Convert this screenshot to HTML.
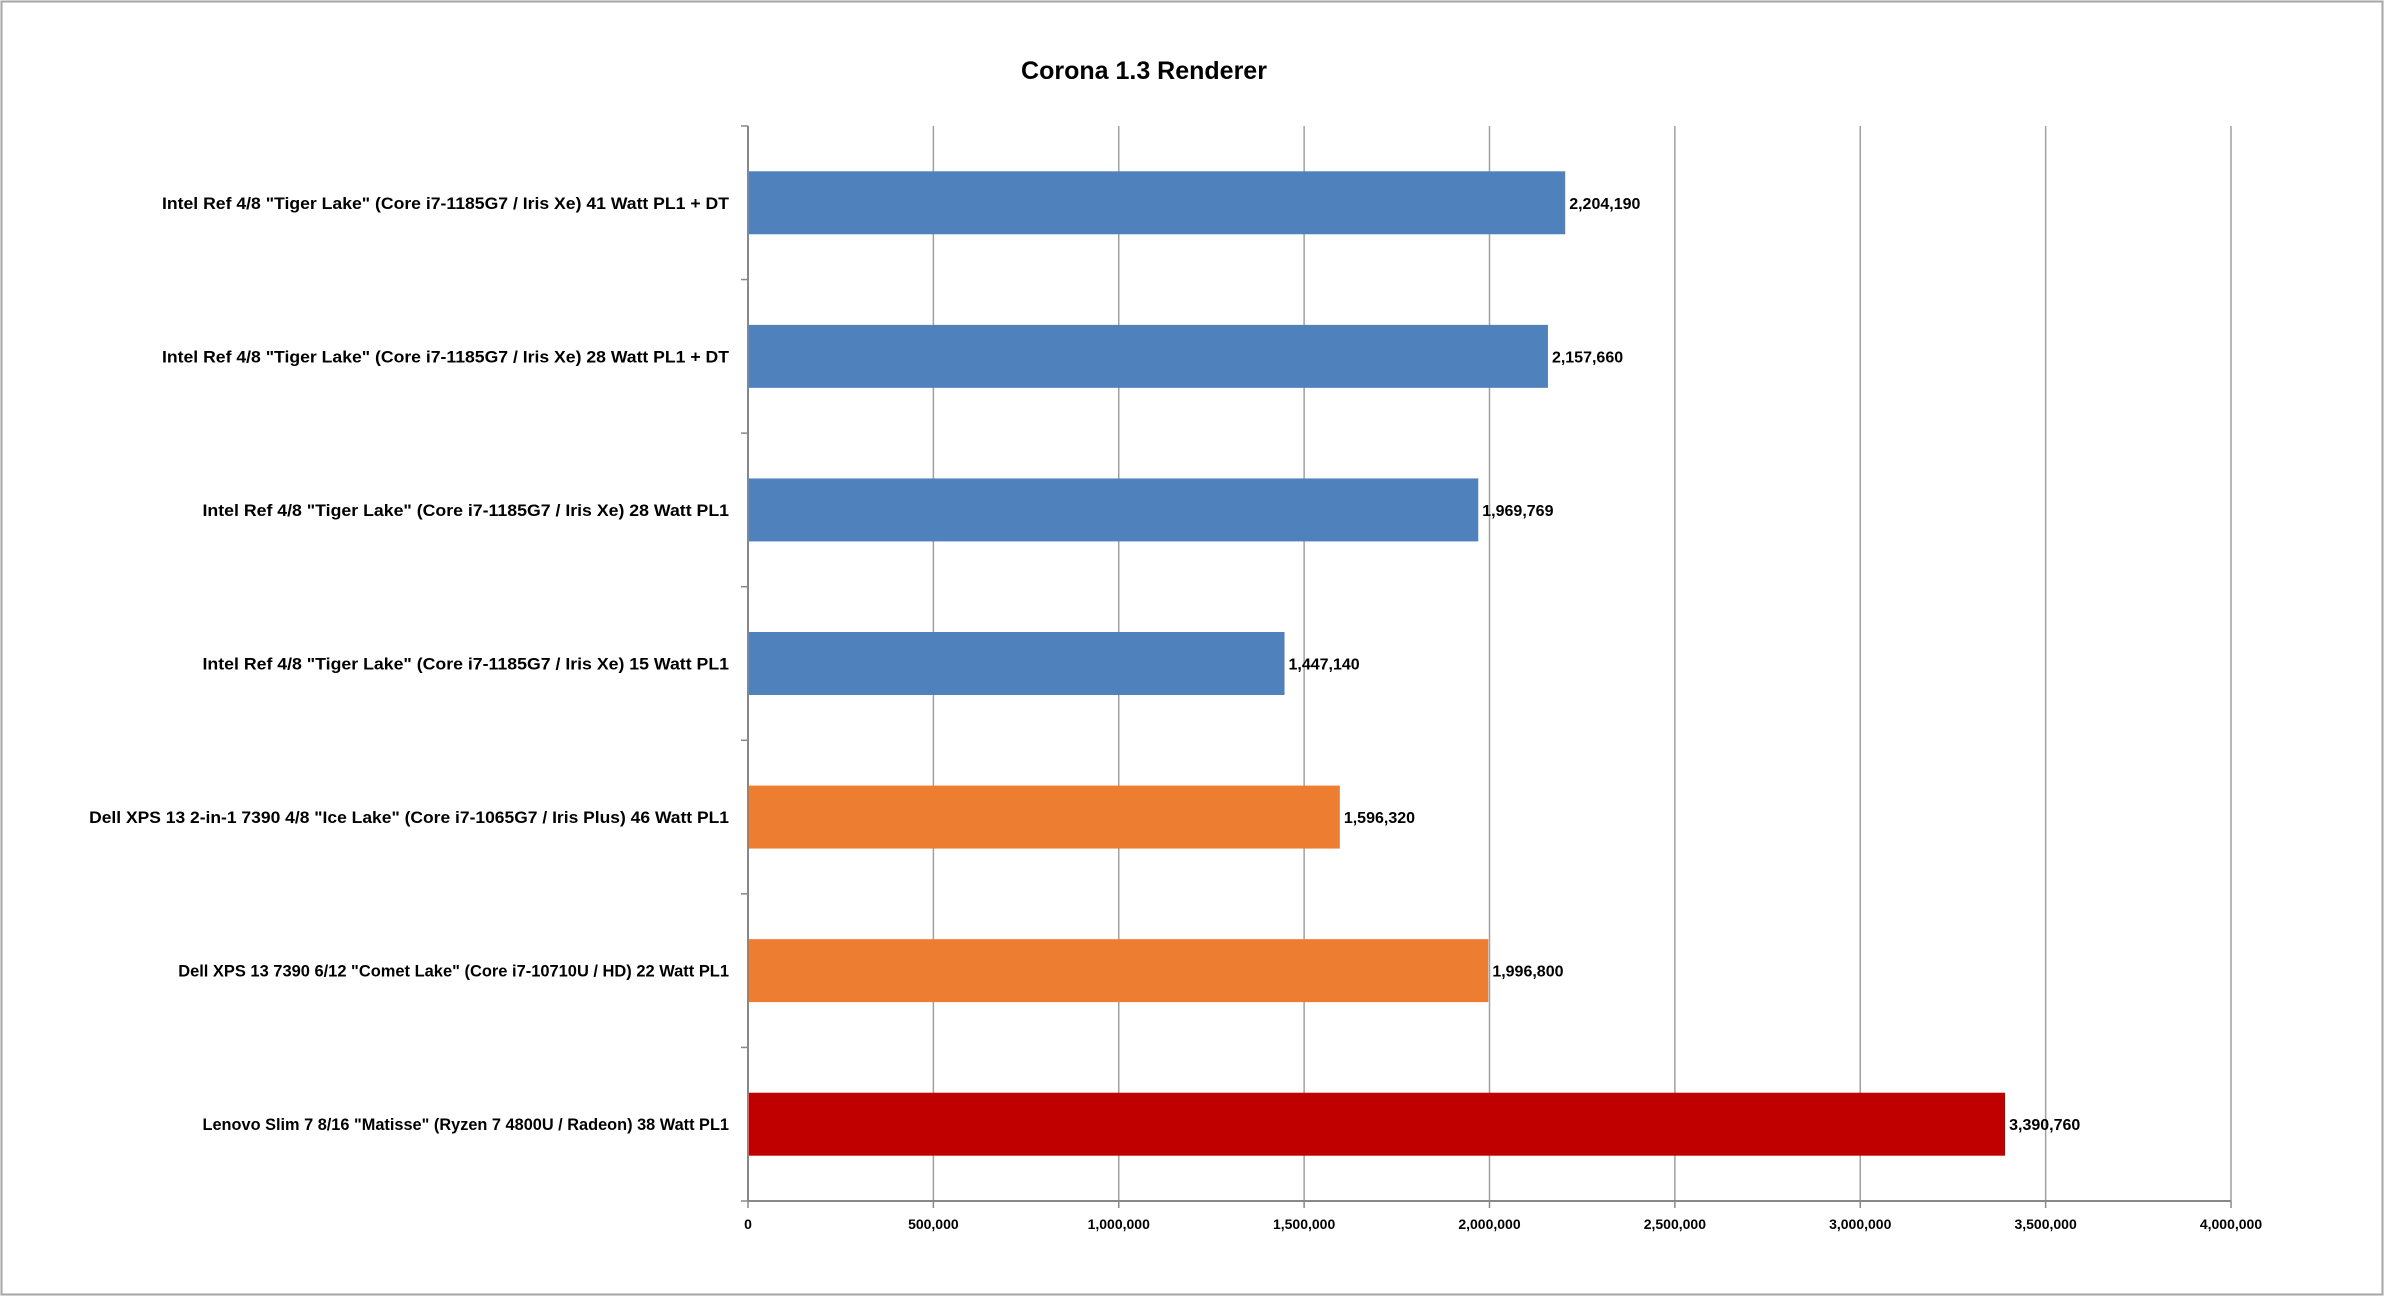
<!DOCTYPE html>
<html><head><meta charset="utf-8"><style>
html,body{margin:0;padding:0;background:#fff}
svg{display:block}
text{font-family:"Liberation Sans Narrow","Liberation Sans",sans-serif;font-weight:bold;fill:#000}
</style></head><body>
<svg id="chart" width="2384" height="1296" viewBox="0 0 2384 1296" xmlns="http://www.w3.org/2000/svg">
<rect x="1.5" y="1.5" width="2381" height="1293" fill="#fff" stroke="#a6a6a6" stroke-width="2"/>
<text x="1144" y="79" text-anchor="middle" font-size="25" style="font-family:'Liberation Sans',sans-serif">Corona 1.3 Renderer</text>
<g id="grid"></g>
<g id="bars"></g>
<g id="axes"></g>
</svg>
<script>
const categories = [
 'Intel Ref 4/8 "Tiger Lake" (Core i7-1185G7 / Iris Xe) 41 Watt PL1 + DT',
 'Intel Ref 4/8 "Tiger Lake" (Core i7-1185G7 / Iris Xe) 28 Watt PL1 + DT',
 'Intel Ref 4/8 "Tiger Lake" (Core i7-1185G7 / Iris Xe) 28 Watt PL1',
 'Intel Ref 4/8 "Tiger Lake" (Core i7-1185G7 / Iris Xe) 15 Watt PL1',
 'Dell XPS 13 2-in-1 7390 4/8 "Ice Lake" (Core i7-1065G7 / Iris Plus) 46 Watt PL1',
 'Dell XPS 13 7390 6/12 "Comet Lake" (Core i7-10710U / HD) 22 Watt PL1',
 'Lenovo Slim 7 8/16 "Matisse" (Ryzen 7 4800U / Radeon) 38 Watt PL1'
];
const values = [2204190, 2157660, 1969769, 1447140, 1596320, 1996800, 3390760];
const colors = ['#4f81bd','#4f81bd','#4f81bd','#4f81bd','#ed7d31','#ed7d31','#c00000'];
const tickValues = [0,500000,1000000,1500000,2000000,2500000,3000000,3500000,4000000];
const tickLabels = ['0','500,000','1,000,000','1,500,000','2,000,000','2,500,000','3,000,000','3,500,000','4,000,000'];

const NS='http://www.w3.org/2000/svg';
const X0=748, X1=2231, XMAX=4000000, YT=126, YB=1201;
const band=(YB-YT)/categories.length;
const xs=v=>X0+(v/XMAX)*(X1-X0);
const yc=i=>YT+band*(i+0.5);
const labelWidth=t=>Math.min(640,t.length*8.1);
function mk(tag,attrs,parent){const e=document.createElementNS(NS,tag);for(const k in attrs)e.setAttribute(k,attrs[k]);parent.appendChild(e);return e;}
const grid=document.getElementById('grid'),bars=document.getElementById('bars'),axes=document.getElementById('axes');
tickValues.forEach((v,i)=>{
 if(i>0){const g=mk('line',{x1:xs(v),x2:xs(v),y1:YT,y2:YB,stroke:'#a0a0a0','stroke-width':1.5},grid);
 
 }
 const tk=mk('line',{x1:xs(v),x2:xs(v),y1:YB,y2:YB+7,stroke:'#888','stroke-width':1.5},axes);
 
 
 const t=mk('text',{x:xs(v),y:YB+28,'text-anchor':'middle','font-size':14},axes);
 t.textContent=tickLabels[i];
 
 
});
const ax=mk('line',{x1:X0,x2:X1,y1:YB,y2:YB,stroke:'#888','stroke-width':2},axes);


const ay=mk('line',{x1:X0,x2:X0,y1:YT,y2:YB,stroke:'#888','stroke-width':2},axes);


for(let i=0;i<=categories.length;i++){
 const tk=mk('line',{x1:X0-7,x2:X0,y1:YT+band*i,y2:YT+band*i,stroke:'#888','stroke-width':1.5},axes);
 
 
}
const bh=band*0.41;
values.forEach((v,i)=>{
 const r=mk('rect',{x:X0,y:yc(i)-bh/2,width:xs(v)-X0,height:bh,fill:colors[i]},bars);
 
 
 const vl=mk('text',{x:xs(v)+4,y:yc(i)+6,'font-size':16},bars);
 vl.textContent=v.toLocaleString('en-US');
 
 
 const cl=mk('text',{x:729,y:yc(i)+6,'text-anchor':'end','font-size':17,textLength:labelWidth(categories[i]),lengthAdjust:'spacingAndGlyphs'},axes);
 cl.textContent=categories[i];
 
 
});
</script>
</body></html>
